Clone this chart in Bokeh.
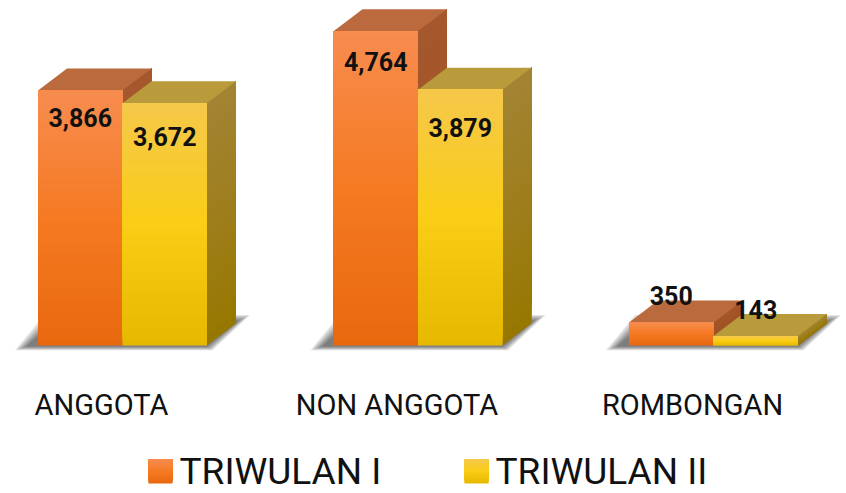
from bokeh.plotting import figure
from bokeh.models import Range1d
from bokeh.core.properties import value
from bokeh.embed import file_html
from bokeh.resources import INLINE

# ---- data ----
categories = ["ANGGOTA", "NON ANGGOTA", "ROMBONGAN"]
series_names = ["TRIWULAN I", "TRIWULAN II"]
triwulan_1 = [3866, 4764, 350]
triwulan_2 = [3672, 3879, 143]
value_labels_1 = ["3,866", "4,764", "350"]
value_labels_2 = ["3,672", "3,879", "143"]

# ---- style / geometry ----
W, H = 846, 493
PX_X = 295.5           # pixels per category step
K = 15.16              # data units per pixel (y)
X0_PX = 122            # first category boundary, px from left
BASE_PX = 148          # baseline distance from bottom in px
BASE_TOP = H - BASE_PX # baseline distance from top in px
FONT = "Roboto"

def ux(px):
    return px / PX_X

def uy(px):
    return px * K

def y_from_top(px):
    return -uy(px - BASE_TOP)

BW = ux(84.5)
DX = ux(29)
DY = uy(22)

# colour stops: (top, mid, bottom)
FRONT = [((247, 140, 80), (245, 122, 34), (232, 104, 14)),
         ((245, 200, 75), (250, 205, 22), (230, 185, 0))]
SIDE = [((165, 88, 45), (160, 84, 38), (152, 78, 30)),
        ((162, 132, 52), (158, 126, 28), (150, 120, 0))]
TOP = ["#BA6A3D", "#B99B3C"]
# label centre offsets (px below bar top, negative = above)
LABEL_DY = [[27.5, 30.5, -27], [33.5, 38, -27]]

def lerp(c1, c2, t):
    return tuple(int(round(a + (b - a) * t)) for a, b in zip(c1, c2))

def grad(stops, t):
    top, mid, bot = stops
    if t < 0.5:
        c = lerp(top, mid, t / 0.5)
    else:
        c = lerp(mid, bot, (t - 0.5) / 0.5)
    return "#%02x%02x%02x" % c

p = figure(width=W, height=H, output_backend="svg", toolbar_location=None,
           x_range=Range1d(ux(-X0_PX), ux(W - X0_PX)),
           y_range=Range1d(uy(-BASE_PX), uy(H - BASE_PX)),
           x_axis_location=None, y_axis_location=None, min_border=0)
p.grid.visible = False
p.outline_line_color = None
p.background_fill_color = "white"
p.border_fill_color = "white"

# ---- shadows ----
for i in range(len(categories)):
    L = i - BW
    R = i + BW
    for k in range(6):
        e = 2.2 * k
        xs = [L - ux(12 + e), R + ux(e * 0.5), R + DX + ux(3 + e), L + DX - ux(12 + e)]
        ys = [uy(-1 - e * 0.35), uy(-1 - e * 0.35), DY + uy(3 + e * 0.5), DY + uy(3 + e * 0.5)]
        p.patch(xs, ys, fill_color="black", fill_alpha=0.11, line_color=None)

# ---- bars ----
N = 60
series = [triwulan_1, triwulan_2]
for s, vals in enumerate(series):
    side_xs, side_ys, side_c = [], [], []
    top_xs, top_ys = [], []
    fl, fr, fb, ft, fc = [], [], [], [], []
    for i, v in enumerate(vals):
        L = i - BW if s == 0 else i
        R = L + BW
        for j in range(N):
            yb = v * j / N
            t = 1 - (j + 0.5) / N
            fl.append(L); fr.append(R); fb.append(yb); ft.append(v)
            fc.append(grad(FRONT[s], t))
            side_xs.append([R, R + DX, R + DX, R])
            side_ys.append([yb, yb + DY, v + DY, v])
            side_c.append(grad(SIDE[s], t))
        top_xs.append([L, R, R + DX, L + DX])
        top_ys.append([v, v, v + DY, v + DY])
    p.patches(side_xs, side_ys, fill_color=side_c, line_color=None)
    p.patches(top_xs, top_ys, fill_color=TOP[s], line_color=None)
    p.quad(left=fl, right=fr, bottom=fb, top=ft, fill_color=fc, line_color=None)

# ---- value labels ----
lx, ly, lt = [], [], []
for s, (vals, labs) in enumerate(zip(series, [value_labels_1, value_labels_2])):
    for i, (v, lab) in enumerate(zip(vals, labs)):
        L = i - BW if s == 0 else i
        lx.append(L + BW / 2)
        ly.append(v - uy(LABEL_DY[s][i]))
        lt.append(lab)
p.text(x=lx, y=ly, text=lt, text_align="center", text_baseline="middle",
       text_font=value(FONT), text_font_size="25px", text_font_style="bold",
       text_color="#111111")

# ---- category labels ----
p.text(x=[i - ux(21) for i in range(len(categories))],
       y=[y_from_top(404)] * len(categories), text=categories,
       text_align="center", text_baseline="middle",
       text_font=value(FONT), text_font_size="29px", text_color="#111111")

# ---- legend (gradient swatches + labels) ----
LEG_SW_X = [148, 464]       # swatch left edges, px
LEG_SW = 24                 # swatch size, px
LEG_MID = 471               # legend row centre, px from top
for s in range(2):
    sl = ux(LEG_SW_X[s] - X0_PX)
    sr = ux(LEG_SW_X[s] + LEG_SW - X0_PX)
    sb = y_from_top(LEG_MID + LEG_SW / 2)
    st = y_from_top(LEG_MID - LEG_SW / 2)
    n = 20
    bl, br, bb, bt, bc = [], [], [], [], []
    for j in range(n):
        bl.append(sl); br.append(sr)
        bb.append(sb + (st - sb) * j / n); bt.append(st)
        bc.append(grad(FRONT[s], 1 - (j + 0.5) / n))
    p.quad(left=bl, right=br, bottom=bb, top=bt, fill_color=bc, line_color=None)
p.text(x=[ux(x + LEG_SW + 7 - X0_PX) for x in LEG_SW_X],
       y=[y_from_top(LEG_MID)] * 2, text=series_names,
       text_align="left", text_baseline="middle",
       text_font=value(FONT), text_font_size="37px", text_color="#111111")

open("out.html", "w").write(file_html(p, INLINE))
